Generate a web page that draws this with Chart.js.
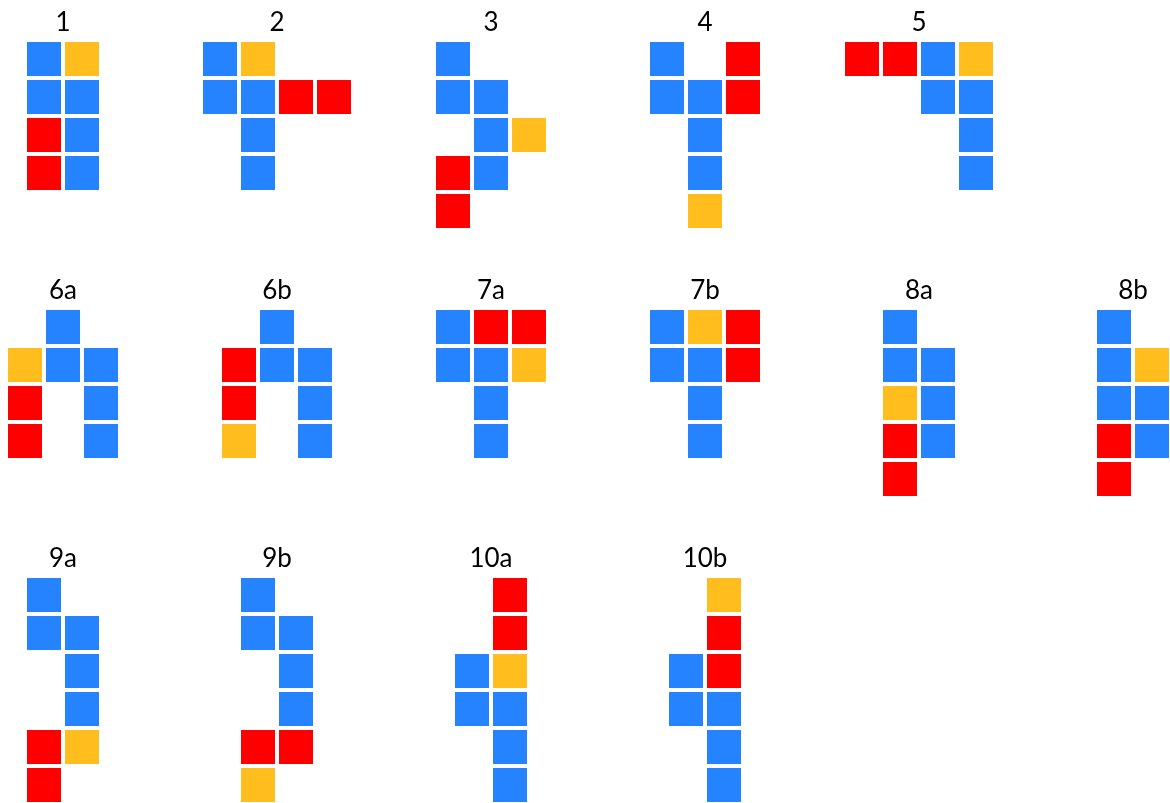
<!DOCTYPE html>
<html>
<head>
<meta charset="utf-8">
<script src="https://cdn.jsdelivr.net/npm/chart.js@4/dist/chart.umd.min.js"></script>
<style>
  html, body { margin: 0; padding: 0; background: #ffffff; }
  #wrap { width: 1170px; height: 803px; }
</style>
</head>
<body>
<div id="wrap"><canvas id="c" width="1170" height="803"></canvas></div>
<script>
// ---- data: shape labels, slot positions (column, row of the layout) and cell grids ----
// grid legend: B = blue, Y = yellow, R = red, . = empty
const shapeLabels = ["1", "2", "3", "4", "5",
                     "6a", "6b", "7a", "7b", "8a", "8b",
                     "9a", "9b", "10a", "10b"];
const shapeSlotCol = [0, 1, 2, 3, 4,  0, 1, 2, 3, 4, 5,  0, 1, 2, 3];
const shapeSlotRow = [0, 0, 0, 0, 0,  1, 1, 1, 1, 1, 1,  2, 2, 2, 2];
const shapeGrids = [
  ["BY", "BB", "RB", "RB"],
  ["BY..", "BBRR", ".B..", ".B.."],
  ["B..", "BB.", ".BY", "RB.", "R.."],
  ["B.R", "BBR", ".B.", ".B.", ".Y."],
  ["RRBY", "..BB", "...B", "...B"],
  [".B.", "YBB", "R.B", "R.B"],
  [".B.", "RBB", "R.B", "Y.B"],
  ["BRR", "BBY", ".B.", ".B."],
  ["BYR", "BBR", ".B.", ".B."],
  ["B.", "BB", "YB", "RB", "R."],
  ["B.", "BY", "BB", "RB", "R."],
  ["B.", "BB", ".B", ".B", "RY", "R."],
  ["B.", "BB", ".B", ".B", "RR", "Y."],
  [".R", ".R", "BY", "BB", ".B", ".B"],
  [".Y", ".R", "BR", "BB", ".B", ".B"]
];
const colorKeys = ["B", "Y", "R"];
const colorNames = ["Blue", "Yellow", "Red"];

// ---- styling / layout ----
const COLORS = { B: "#2683FF", Y: "#FFBE1E", R: "#FF0000" };
const CELL = 38;          // cell pitch (axis units)
const SQUARE = 34;        // drawn square side in px
const SLOT_X0 = 63, SLOT_W = 214;   // centre of first layout column, column pitch
const SLOT_Y0 = 59, SLOT_H = 268;   // centre of first cell row, row pitch

function cellPoints(key) {
  const pts = [];
  shapeGrids.forEach((grid, i) => {
    const ncols = grid[0].length;
    const cx = SLOT_X0 + SLOT_W * shapeSlotCol[i];
    const cy = SLOT_Y0 + SLOT_H * shapeSlotRow[i];
    grid.forEach((line, r) => {
      for (let c = 0; c < line.length; c++) {
        if (line[c] === key) {
          pts.push({ x: cx + (c - (ncols - 1) / 2) * CELL, y: cy + r * CELL });
        }
      }
    });
  });
  return pts;
}

const datasets = colorKeys.map((k, i) => ({
  label: colorNames[i],
  data: cellPoints(k),
  pointStyle: "rect",
  pointRadius: SQUARE / (2 * Math.SQRT1_2),
  pointHoverRadius: SQUARE / (2 * Math.SQRT1_2),
  backgroundColor: COLORS[k],
  borderWidth: 0,
  showLine: false,
  clip: false
}));

const labelPlugin = {
  id: "shapeLabels",
  afterDatasetsDraw(chart) {
    const ctx = chart.ctx;
    const xs = chart.scales.x, ys = chart.scales.y;
    ctx.save();
    ctx.fillStyle = "#000000";
    ctx.font = "26px Lato, 'Open Sans', sans-serif";
    ctx.textAlign = "center";
    ctx.textBaseline = "alphabetic";
    shapeLabels.forEach((lab, i) => {
      const x = xs.getPixelForValue(SLOT_X0 + SLOT_W * shapeSlotCol[i]);
      const y = ys.getPixelForValue(SLOT_Y0 + SLOT_H * shapeSlotRow[i] - SQUARE / 2 - 11);
      ctx.fillText(lab, x, y);
    });
    ctx.restore();
  }
};

new Chart(document.getElementById("c"), {
  type: "scatter",
  data: { datasets },
  options: {
    responsive: false,
    animation: false,
    layout: { padding: 0, autoPadding: false },
    plugins: { legend: { display: false }, tooltip: { enabled: false } },
    events: [],
    scales: {
      x: { type: "linear", min: 0, max: 1170, display: false },
      y: { type: "linear", min: 0, max: 803, reverse: true, display: false }
    }
  },
  plugins: [labelPlugin]
});
</script>
</body>
</html>
